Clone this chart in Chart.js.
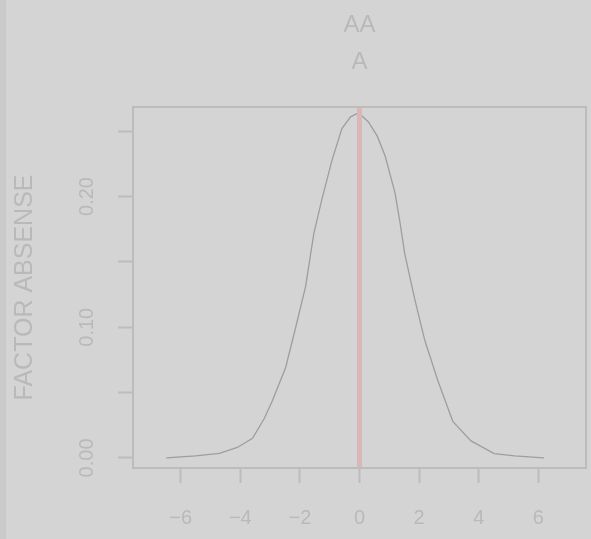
<!DOCTYPE html>
<html>
<head>
<meta charset="utf-8">
<script src="https://cdn.jsdelivr.net/npm/chart.js@4/dist/chart.umd.min.js"></script>
<style>
  html, body { margin: 0; padding: 0; }
  body { width: 591px; height: 539px; background: linear-gradient(to right, #cacaca 0px, #cacaca 6px, #d4d4d4 6px, #d4d4d4 100%); overflow: hidden; }
  #wrap { width: 591px; height: 539px; }
</style>
</head>
<body>
<div id="wrap"><canvas id="c" width="591" height="539"></canvas></div>
<script>
// ---- data ----
const titleLines = ["AA", "A"];
const yAxisTitle = "FACTOR ABSENSE";
const densityX = [-6.48, -5.5, -4.7, -4.1, -3.59, -3.2, -2.92, -2.48, -2.14, -1.81, -1.53, -1.26, -0.92, -0.59, -0.3, -0.03, 0.3, 0.6, 0.86, 1.19, 1.36, 1.52, 1.86, 2.19, 2.63, 3.13, 3.74, 4.52, 5.2, 6.19];
const densityY = [0.000, 0.0015, 0.0035, 0.008, 0.015, 0.030, 0.044, 0.069, 0.100, 0.131, 0.172, 0.198, 0.228, 0.252, 0.261, 0.264, 0.257, 0.246, 0.231, 0.203, 0.180, 0.156, 0.121, 0.090, 0.059, 0.028, 0.013, 0.0033, 0.0015, 0.000];
const refLineX = 0;
const xTicks = [-6, -4, -2, 0, 2, 4, 6];
const xTickLabels = ["\u22126", "\u22124", "\u22122", "0", "2", "4", "6"];
const yTicks = [0.00, 0.05, 0.10, 0.15, 0.20, 0.25];
const yTickLabels = ["0.00", "", "0.10", "", "0.20", ""];
const xRange = [-7.6, 7.6];
const yRange = [-0.0077, 0.2685];

const textColor = "#b9b9b9";
const axisColor = "#bcbcbc";

const titlePlugin = {
  id: "rTitle",
  afterDraw(chart) {
    const ctx = chart.ctx, a = chart.chartArea;
    const cx = (a.left + a.right) / 2;
    ctx.save();
    ctx.fillStyle = textColor;
    ctx.font = "24px 'Liberation Sans', Arial, sans-serif";
    ctx.textAlign = "center";
    ctx.textBaseline = "middle";
    ctx.fillText(titleLines[0], cx, 25);
    ctx.fillText(titleLines[1], cx, 62);
    ctx.restore();
  }
};
const boxPlugin = {
  id: "box",
  afterDatasetsDraw(chart) {
    const ctx = chart.ctx, a = chart.chartArea;
    ctx.save();
    ctx.strokeStyle = axisColor;
    ctx.lineWidth = 2;
    ctx.strokeRect(a.left, a.top, a.right - a.left, a.bottom - a.top);
    ctx.restore();
  }
};

const curve = densityX.map((x, i) => ({ x: x, y: densityY[i] }));
const refLine = [{ x: refLineX, y: yRange[0] }, { x: refLineX, y: yRange[1] }];

new Chart(document.getElementById("c"), {
  type: "scatter",
  data: {
    datasets: [
      { data: refLine, showLine: true, borderColor: "#d9b7b7", borderWidth: 5, pointRadius: 0, tension: 0 },
      { data: curve, showLine: true, borderColor: "#9e9e9e", borderWidth: 1.3, pointRadius: 0, tension: 0 }
    ]
  },
  plugins: [titlePlugin, boxPlugin],
  options: {
    responsive: false,
    animation: false,
    events: [],
    layout: { padding: { top: 107, right: 5, left: 0, bottom: 0 } },
    plugins: { legend: { display: false }, tooltip: { enabled: false }, title: { display: false } },
    scales: {
      x: {
        type: "linear",
        min: xRange[0], max: xRange[1],
        afterBuildTicks: s => { s.ticks = xTicks.map(v => ({ value: v })); },
        afterFit: s => { s.height = 71; },
        border: { display: false },
        grid: { drawOnChartArea: false, drawTicks: true, tickLength: 15, tickWidth: 2, tickColor: axisColor },
        ticks: {
          padding: 23,
          color: textColor,
          font: { family: "'Liberation Sans', Arial, sans-serif", size: 20 },
          maxRotation: 0, minRotation: 0,
          callback: (v) => { const i = xTicks.indexOf(v); return i >= 0 ? xTickLabels[i] : ""; }
        }
      },
      y: {
        type: "linear",
        min: yRange[0], max: yRange[1],
        afterBuildTicks: s => { s.ticks = yTicks.map(v => ({ value: v })); },
        afterFit: s => { s.width = 133; },
        border: { display: false },
        grid: { drawOnChartArea: false, drawTicks: true, tickLength: 15, tickWidth: 2, tickColor: axisColor },
        title: {
          display: true, text: yAxisTitle, color: textColor,
          font: { family: "'Liberation Sans', Arial, sans-serif", size: 25 },
          padding: { top: 10, bottom: 0 }
        },
        ticks: {
          padding: 11,
          crossAlign: "center",
          minRotation: 90, maxRotation: 90,
          color: textColor,
          font: { family: "'Liberation Sans', Arial, sans-serif", size: 20 },
          callback: (v) => { const i = yTicks.findIndex(t => Math.abs(t - v) < 1e-9); return i >= 0 ? yTickLabels[i] : ""; }
        }
      }
    }
  }
});
</script>
</body>
</html>
